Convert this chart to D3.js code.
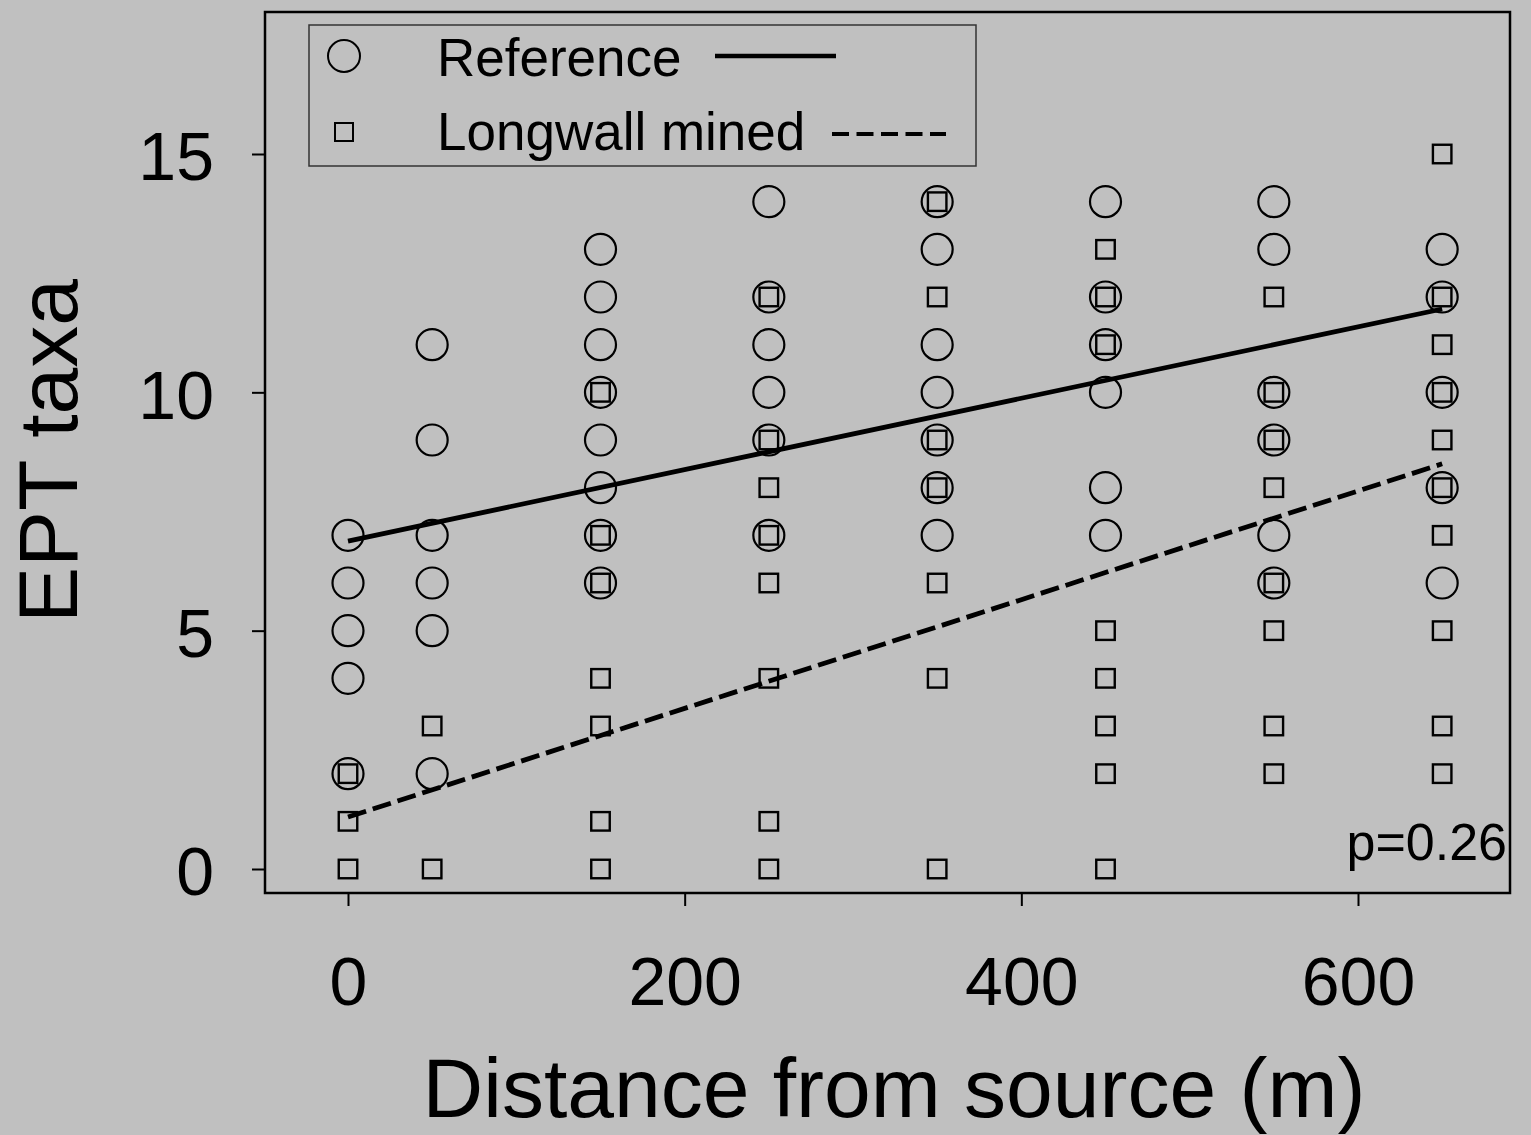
<!DOCTYPE html>
<html>
<head>
<meta charset="utf-8">
<script src="https://cdn.jsdelivr.net/npm/d3@7"></script>
<style>
  body { margin: 0; background: #c0c0c0; }
  svg { display: block; }
  text { font-family: "Liberation Sans", Arial, sans-serif; fill: #000; }
</style>
</head>
<body>
<div id="chart"></div>
<script>
// distances from source (m) and EPT taxa counts at each distance
const distances = [0, 50, 150, 250, 350, 450, 550, 650];
const referenceTaxa = [
  [7, 6, 5, 4, 2],
  [11, 9, 7, 6, 5, 2],
  [13, 12, 11, 10, 9, 8, 7, 6],
  [14, 12, 11, 10, 9, 7],
  [14, 13, 11, 10, 9, 8, 7],
  [14, 12, 11, 10, 8, 7],
  [14, 13, 10, 9, 7, 6],
  [13, 12, 10, 8, 6]
];
const longwallTaxa = [
  [2, 1, 0],
  [3, 0],
  [10, 7, 6, 4, 3, 1, 0],
  [12, 9, 8, 7, 6, 4, 1, 0],
  [14, 12, 9, 8, 6, 4, 0],
  [13, 12, 11, 5, 4, 3, 2, 0],
  [12, 10, 9, 8, 6, 5, 3, 2],
  [15, 12, 11, 10, 9, 8, 7, 5, 3, 2]
];
// fitted lines: [intercept, slope]
const referenceFit = [6.88, 0.00749];
const longwallFit = [1.09, 0.0114];
const fitRange = [0, 650];

const xTicks = [0, 200, 400, 600];
const yTicks = [0, 5, 10, 15];
const legendLabels = ['Reference', 'Longwall mined'];
const pLabel = 'p=0.26';

const W = 1531, H = 1135;
const frame = { left: 265, right: 1510, top: 12, bottom: 893 };

const x = d3.scaleLinear().domain([0, 600]).range([348, 1358]);
const y = d3.scaleLinear().domain([0, 15]).range([869, 154]);

const svg = d3.select('#chart').append('svg')
  .attr('width', W).attr('height', H);

svg.append('rect').attr('width', W).attr('height', H).attr('fill', '#c0c0c0');

function flatten(groups) {
  const out = [];
  groups.forEach((vals, i) => vals.forEach(v => out.push([distances[i], v])));
  return out;
}

// points
svg.append('g').selectAll('circle')
  .data(flatten(referenceTaxa))
  .enter().append('circle')
  .attr('cx', d => x(d[0]))
  .attr('cy', d => y(d[1]))
  .attr('r', 15.5)
  .attr('fill', 'none')
  .attr('stroke', '#000')
  .attr('stroke-width', 2.2);

const sq = 18.5;
svg.append('g').selectAll('rect')
  .data(flatten(longwallTaxa))
  .enter().append('rect')
  .attr('x', d => x(d[0]) - sq / 2)
  .attr('y', d => y(d[1]) - sq / 2)
  .attr('width', sq).attr('height', sq)
  .attr('fill', 'none')
  .attr('stroke', '#000')
  .attr('stroke-width', 2.4);

// regression lines
const line = d3.line().x(d => x(d[0])).y(d => y(d[1]));
function fitPts(f) { return fitRange.map(v => [v, f[0] + f[1] * v]); }

svg.append('path').attr('d', line(fitPts(referenceFit)))
  .attr('fill', 'none').attr('stroke', '#000').attr('stroke-width', 4.8);
svg.append('path').attr('d', line(fitPts(longwallFit)))
  .attr('fill', 'none').attr('stroke', '#000').attr('stroke-width', 4.8)
  .attr('stroke-dasharray', '19,7');

// frame
svg.append('rect')
  .attr('x', frame.left).attr('y', frame.top)
  .attr('width', frame.right - frame.left)
  .attr('height', frame.bottom - frame.top)
  .attr('fill', 'none').attr('stroke', '#000').attr('stroke-width', 2.5);

// axes
const yAxis = svg.append('g')
  .attr('transform', 'translate(' + frame.left + ',0)')
  .call(d3.axisLeft(y).tickValues(yTicks).tickSize(13).tickPadding(38));
const xAxis = svg.append('g')
  .attr('transform', 'translate(0,' + frame.bottom + ')')
  .call(d3.axisBottom(x).tickValues(xTicks).tickSize(13).tickPadding(51));

[xAxis, yAxis].forEach(a => {
  a.select('.domain').remove();
  a.selectAll('line').attr('stroke', '#000').attr('stroke-width', 2);
  a.selectAll('text').attr('font-size', 68).attr('fill', '#000')
    .attr('font-family', '"Liberation Sans", Arial, sans-serif');
});
yAxis.selectAll('text').attr('dy', '0.38em');

// axis titles
svg.append('text')
  .attr('x', 894).attr('y', 1117)
  .attr('text-anchor', 'middle')
  .attr('font-size', 84)
  .text('Distance from source (m)');

svg.append('text')
  .attr('transform', 'translate(77,451) rotate(-90)')
  .attr('text-anchor', 'middle')
  .attr('font-size', 84)
  .text('EPT taxa');

// p value
svg.append('text')
  .attr('x', 1507).attr('y', 860)
  .attr('text-anchor', 'end')
  .attr('font-size', 52)
  .text(pLabel);

// legend
const lg = svg.append('g');
lg.append('rect')
  .attr('x', 309).attr('y', 25).attr('width', 667).attr('height', 141)
  .attr('fill', 'none').attr('stroke', '#333').attr('stroke-width', 1.5);

lg.append('circle').attr('cx', 344).attr('cy', 56).attr('r', 16)
  .attr('fill', 'none').attr('stroke', '#000').attr('stroke-width', 2);
lg.append('rect').attr('x', 335).attr('y', 123).attr('width', 18).attr('height', 18)
  .attr('fill', 'none').attr('stroke', '#000').attr('stroke-width', 2);

lg.selectAll('text.lab')
  .data(legendLabels)
  .enter().append('text')
  .attr('class', 'lab')
  .attr('x', 437)
  .attr('y', (d, i) => 76 + i * 74)
  .attr('font-size', 53)
  .text(d => d);

lg.append('line').attr('x1', 715).attr('x2', 836).attr('y1', 56).attr('y2', 56)
  .attr('stroke', '#000').attr('stroke-width', 4.5);
lg.append('line').attr('x1', 832).attr('x2', 946).attr('y1', 134).attr('y2', 134)
  .attr('stroke', '#000').attr('stroke-width', 4)
  .attr('stroke-dasharray', '17,7.5');
</script>
</body>
</html>
